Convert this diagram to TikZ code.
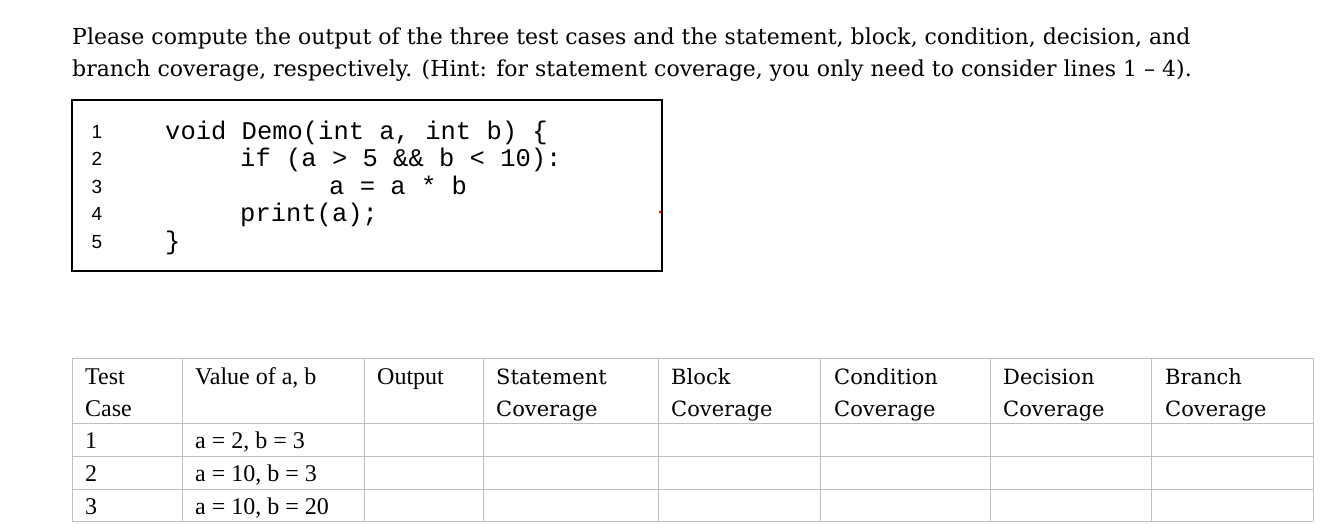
\documentclass[tikz,border=0pt]{standalone}
\usepackage{fontspec}
\setmainfont{DejaVu Serif}
\newfontfamily\tms{Liberation Serif}
\newfontfamily\cour{Liberation Mono}
\newfontfamily\arl{Liberation Sans}
\begin{document}
\begin{tikzpicture}[x=1pt,y=-1pt,
  para/.style={anchor=base west,inner sep=0pt,font=\fontsize{22}{26}\selectfont},
  code/.style={anchor=base west,inner sep=0pt,font=\cour\fontsize{25.5}{28}\selectfont},
  num/.style={anchor=base,inner sep=0pt,font=\arl\fontsize{19}{22}\selectfont},
  tt/.style={anchor=base west,inner sep=0pt,font=\tms\fontsize{24}{28}\selectfont},
  tc/.style={anchor=base west,inner sep=0pt,font=\fontsize{21}{26}\selectfont},
  grid/.style={draw=black!25,line width=1pt}]
\useasboundingbox (0,0) rectangle (1325,528);
\node[para] (p1) at (72,44) {Please compute the output of the three test cases and the statement, block, condition, decision, and};
\node[para] (p2) at (72,76) {branch coverage, respectively. (Hint: for statement coverage, you only need to consider lines 1 -- 4).};
\draw[line width=2pt] (72,100) rectangle (662,271);
\foreach \n/\y in {1/138,2/165,3/193,4/220,5/248}{\node[num] (n\n) at (97,\y) {\n};}
\node[code] (c1) at (165,139) {void Demo(int a, int b) \{};
\node[code] (c2) at (240,166) {if (a > 5 \&\& b < 10):};
\node[code] (c3) at (329,194) {a = a * b};
\node[code] (c4) at (240,221) {print(a);};
\node[code] (c5) at (165,249) {\}};
\fill[red] (660,212) circle (1.5);
% table
\foreach \x in {72,182,364,483,658,820,990,1151,1313}{\draw[grid] (\x,358) -- (\x,521);}
\foreach \y in {358,423,456,489,521}{\draw[grid] (72,\y) -- (1313,\y);}
\node[tt] (h1a) at (85,384) {Test};
\node[tt] (h1b) at (85,416) {Case};
\node[tt] (h2) at (195,384) {Value of a, b};
\node[tt] (h3) at (377,384) {Output};
\foreach \x/\t in {496/Statement,671/Block,834/Condition,1003/Decision,1165/Branch}{
  \node[tc] (t\t) at (\x,384) {\t};
  \node[tc] (c\t) at (\x,416) {Coverage};}
\node[tt] (r1) at (85,448) {1};
\node[tt] (r2) at (85,481) {2};
\node[tt] (r3) at (85,514) {3};
\node[tt] (v1) at (195,448) {a = 2, b = 3};
\node[tt] (v2) at (195,481) {a = 10, b = 3};
\node[tt] (v3) at (195,514) {a = 10, b = 20};
\end{tikzpicture}
\end{document}
